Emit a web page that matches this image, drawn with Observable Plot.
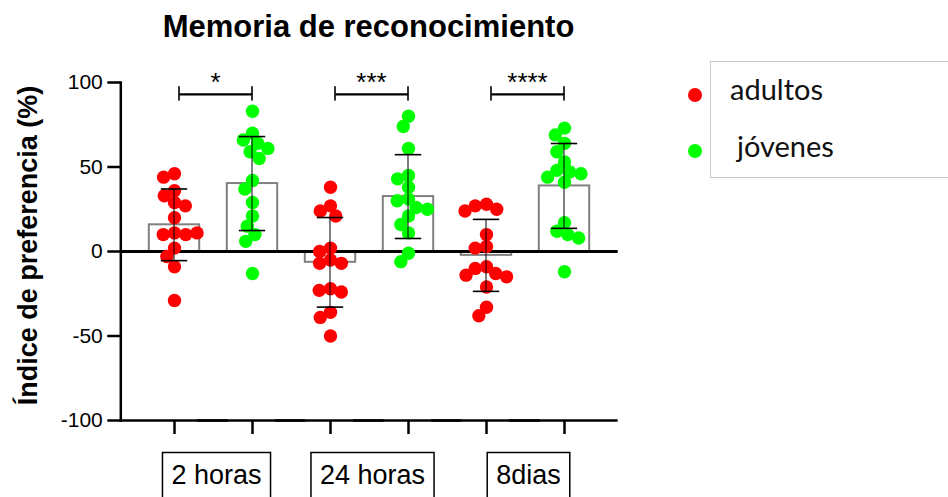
<!DOCTYPE html>
<html><head><meta charset="utf-8">
<script src="https://cdn.jsdelivr.net/npm/d3@7"></script>
<script src="https://cdn.jsdelivr.net/npm/@observablehq/plot@0.6"></script>
<style>
body{margin:0;background:#fff;}
#wrap{position:relative;width:948px;height:497px;overflow:hidden;background:#fff;}
#title{position:absolute;left:0;top:10.5px;width:737px;text-align:center;font:bold 31px/31px "Liberation Sans",Arial,sans-serif;color:#000;white-space:nowrap;}
#chart{position:absolute;left:0;top:50px;}
#legend{position:absolute;left:710px;top:61px;width:260px;height:115px;border:1px solid #c8c8c8;}
.ldot{position:absolute;width:14px;height:14px;border-radius:50%;}
.ltxt{position:absolute;font:29px/29px Lato,"Open Sans",sans-serif;color:#111;white-space:nowrap;}
</style></head><body>
<div id="wrap">
  <div id="title">Memoria de reconocimiento</div>
  <div id="chart"></div>
  <div id="legend"></div>
  <div class="ldot" style="left:688px;top:88px;background:#ff0000"></div>
  <div class="ldot" style="left:688px;top:144px;background:#00ff00"></div>
  <div class="ltxt" style="left:730px;top:74.3px">adultos</div>
  <div class="ltxt" style="left:737px;top:131.3px">jóvenes</div>
</div>
<script>
// ---- data ----
const tiempos = ["2 horas", "24 horas", "8dias"];
const grupos = ["adultos", "jóvenes"];
const adultos2h  = [46, 44, 36, 33, 29, 27, 20, 11, 10, 10, 11, 2, -3, -9, -29];
const jovenes2h  = [83, 70, 66, 64, 61, 59, 55, 42, 37, 29, 21, 15, 10, 6, -13];
const adultos24h = [38, 27, 24, 21, 2, 0, -5, -7, -7, -22, -23, -24, -36, -39, -50];
const jovenes24h = [80, 74, 61, 45, 43, 38, 31, 30, 26, 25, 21, 16, 11, -1, -6];
const adultos8d  = [28, 27, 25, 24, 10, 3, 2, -9, -10, -13, -14, -15, -21, -33, -38];
const jovenes8d  = [73, 69, 64, 59, 53, 48, 47, 46, 44, 41, 17, 12, 10, 8, -12];
const medias = [15.8, 40.2, -6.4, 32.5, -2.3, 38.8];
const desv   = [21.2, 27.8, 26.5, 24.8, 21.3, 25.1];
const estrellas = ["*", "***", "****"];
const yTicks = [-100, -50, 0, 50, 100];
const yLabel = "Índice de preferencia (%)";

// ---- derived tables ----
const series = [adultos2h, jovenes2h, adultos24h, jovenes24h, adultos8d, jovenes8d];
const cats = [];
tiempos.forEach(t => grupos.forEach(g => cats.push(t + "|" + g)));
const puntos = [];
series.forEach((vals, i) => vals.forEach(v => puntos.push({cat: cats[i], grupo: grupos[i % 2], value: v})));
const resumen = cats.map((c, i) => ({cat: c, grupo: grupos[i % 2], mean: medias[i], lo: medias[i] - desv[i], hi: medias[i] + desv[i]}));
const caps = resumen.flatMap(d => [{cat: d.cat, y: d.lo}, {cat: d.cat, y: d.hi}]);
const sig = tiempos.map((t, i) => ({adult: cats[2 * i], young: cats[2 * i + 1], stars: estrellas[i], tiempo: t}));

const plot = Plot.plot({
  width: 640,
  height: 447,
  marginLeft: 118,
  marginRight: 21,
  marginTop: 32,
  marginBottom: 77,
  style: {fontFamily: "'Liberation Sans', Arial, sans-serif", fontSize: "21px", color: "#000", background: "#fff", overflow: "visible"},
  fx: {domain: cats, paddingInner: 0, paddingOuter: 0.187},
  y: {domain: [-100, 100]},
  color: {domain: grupos, range: ["#ff0000", "#00ff00"]},
  marks: [
    Plot.barY(resumen, {fx: "cat", y: "mean", fill: "white", stroke: "#808080", strokeWidth: 2, insetLeft: 13.8, insetRight: 13.8}),
    Plot.ruleY(cats, {fx: d => d, y: () => 0, stroke: "#000", strokeWidth: 3, insetLeft: -14.7, insetRight: -14.7}),
    Plot.ruleY(cats, {fx: d => d, y: () => -100, stroke: "#000", strokeWidth: 2.5, insetLeft: -15.9, insetRight: -14.7}),
    Plot.frame({facet: "super", anchor: "left", dx: -14.7, stroke: "#000", strokeWidth: 2.5}),
    Plot.axisY(yTicks, {anchor: "left", dx: -14.7, tickSize: 13, tickPadding: 5, strokeWidth: 2.5, fontSize: 21, label: null, tickFormat: d => String(d)}),
    Plot.axisFx({anchor: "bottom", tickSize: 14, strokeWidth: 2.5, tickFormat: () => "", label: null}),
    Plot.dot(puntos, Plot.dodgeX({anchor: "middle", padding: -2}, {fx: "cat", y: "value", r: 6.7, fill: "grupo", stroke: "none"})),
    // error bars (thin rects centred in each facet) and caps
    Plot.rect(resumen, {fx: "cat", y1: "lo", y2: "hi", fill: "#000", insetLeft: 38.5, insetRight: 38.5}),
    Plot.tickY(caps, {fx: "cat", y: "y", stroke: "#000", strokeWidth: 1.6, insetLeft: 25.8, insetRight: 25.8}),
    // significance brackets
    Plot.ruleY(sig, {fx: "adult", y: () => 93, stroke: "#000", strokeWidth: 2.2, insetLeft: 44.3, insetRight: -39.3}),
    Plot.rect(sig, {fx: "adult", y1: () => 89, y2: () => 97.5, fill: "#000", insetLeft: 43.2, insetRight: 33.2}),
    Plot.rect(sig, {fx: "young", y1: () => 89, y2: () => 97.5, fill: "#000", insetLeft: 38.2, insetRight: 38.2}),
    Plot.text(sig, {fx: "adult", text: "stars", frameAnchor: "right", y: () => 100, dx: 2, textAnchor: "middle", lineAnchor: "middle", fontSize: 26}),
    Plot.text(sig, {fx: "adult", text: "tiempo", frameAnchor: "bottom-right", dy: 63, dx: 3, textAnchor: "middle", fontSize: 27}),
    Plot.text([yLabel], {facet: "super", text: d => d, frameAnchor: "left", textAnchor: "middle", rotate: -90, dx: -107, dy: -6, fontSize: 27, fontWeight: "bold"})
  ]
});
document.getElementById("chart").appendChild(plot);

// boxes around the time labels
const svgRect = plot.getBoundingClientRect();
Array.from(plot.querySelectorAll("text")).filter(t => tiempos.includes(t.textContent)).forEach(t => {
  const b = t.getBoundingClientRect();
  const r = document.createElementNS("http://www.w3.org/2000/svg", "rect");
  r.setAttribute("x", b.left - svgRect.left - 9);
  r.setAttribute("y", b.top - svgRect.top - 7);
  r.setAttribute("width", b.width + 18);
  r.setAttribute("height", 200);
  r.setAttribute("fill", "none");
  r.setAttribute("stroke", "#000");
  r.setAttribute("stroke-width", 1.5);
  plot.appendChild(r);
});
</script>
</body></html>
